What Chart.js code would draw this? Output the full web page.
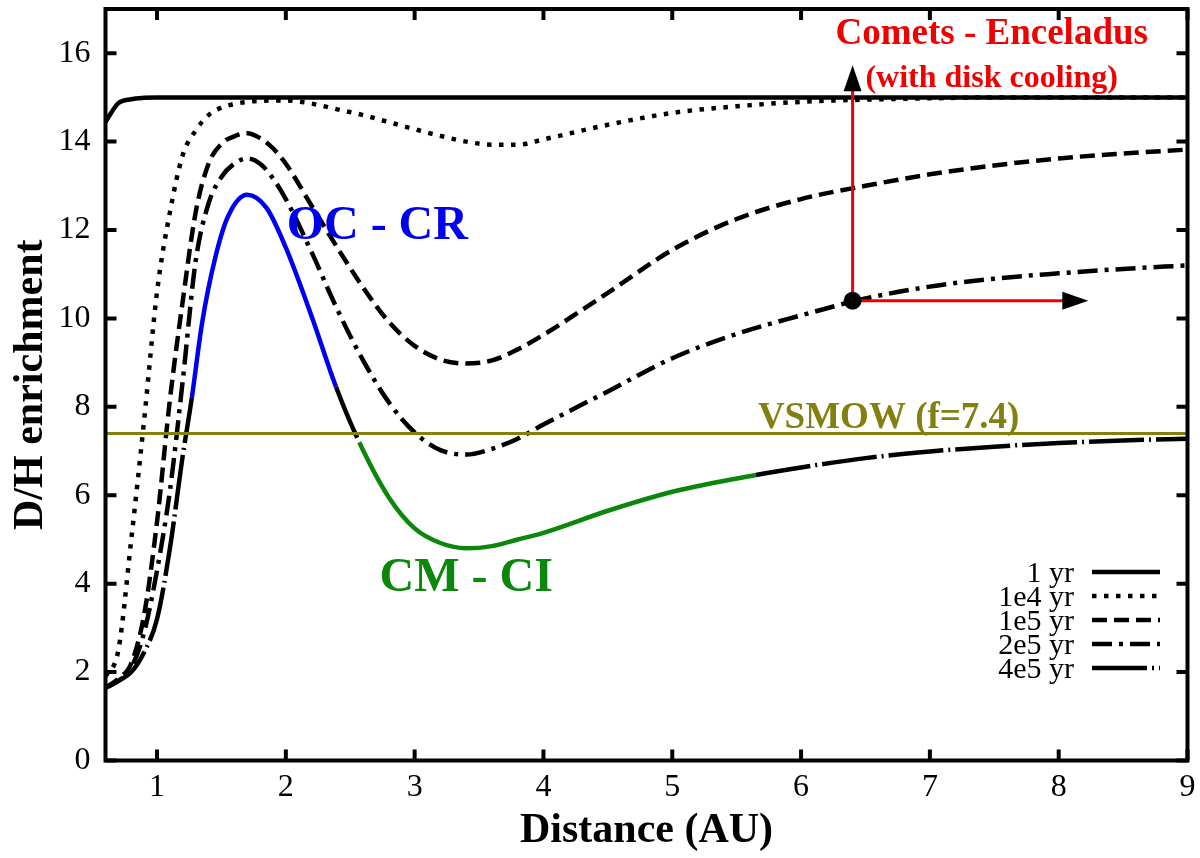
<!DOCTYPE html>
<html>
<head>
<meta charset="utf-8">
<script src="https://cdn.jsdelivr.net/npm/chart.js@4.4.1/dist/chart.umd.min.js"></script>
<style>
  html, body { margin: 0; padding: 0; background: #fff; }
  canvas { display: block; }
</style>
</head>
<body>
<canvas id="dh" width="1200" height="858"></canvas>
<script>
// D/H enrichment vs heliocentric distance
const distance = [0.6, 0.7, 0.8, 0.9, 1.0, 1.1, 1.2, 1.3, 1.4, 1.5, 1.6, 1.7, 1.8, 1.9, 2.0,
  2.2, 2.4, 2.6, 2.8, 3.0, 3.2, 3.4, 3.6, 3.8, 4.0, 4.5, 5.0, 5.5, 6.0, 6.5, 7.0, 7.5, 8.0, 8.5, 9.0];

const enrich1yr = [14.45, 14.87, 14.96, 14.99, 15, 15, 15, 15, 15, 15, 15, 15, 15, 15, 15,
  15, 15, 15, 15, 15, 15, 15, 15, 15, 15, 15, 15, 15, 15, 15, 15, 15, 15, 15, 15];
const enrich1e4 = [1.9, 2.5, 5.0, 7.7, 10.6, 12.4, 13.7, 14.25, 14.6, 14.77, 14.85, 14.9, 14.92, 14.93, 14.93,
  14.86, 14.73, 14.6, 14.44, 14.28, 14.13, 14.0, 13.93, 13.93, 14.05, 14.38, 14.65, 14.8, 14.9, 14.95, 14.98, 15, 15, 15, 15];
const enrich1e5 = [1.65, 1.85, 2.2, 3.3, 5.4, 8.16, 10.4, 12.4, 13.5, 13.95, 14.12, 14.19, 14.08, 13.85, 13.5,
  12.55, 11.6, 10.7, 9.92, 9.38, 9.07, 8.98, 9.05, 9.3, 9.63, 10.58, 11.55, 12.25, 12.7, 13.0, 13.26, 13.46, 13.62, 13.73, 13.82];
const enrich2e5 = [1.65, 1.8, 2.1, 2.9, 4.3, 6.1, 8.6, 11.3, 12.6, 13.2, 13.5, 13.62, 13.5, 13.17, 12.7,
  11.5, 10.2, 9.05, 8.1, 7.42, 7.02, 6.92, 7.05, 7.28, 7.6, 8.35, 9.1, 9.65, 10.07, 10.45, 10.72, 10.9, 11.02, 11.12, 11.2];

const distance4e5 = [0.6, 0.7, 0.8, 0.9, 1.0, 1.1, 1.2, 1.27, 1.35, 1.45, 1.55, 1.7, 1.85, 2.0, 2.2, 2.39,
  2.57, 2.8, 3.0, 3.2, 3.4, 3.6, 3.8, 4.0, 4.5, 5.0, 5.65, 6.0, 6.5, 7.0, 7.5, 8.0, 8.5, 9.0];
const enrich4e5 = [1.64, 1.8, 2.0, 2.45, 3.2, 4.8, 6.9, 8.2, 9.9, 11.35, 12.3, 12.8, 12.5, 11.6, 10.05, 8.45,
  7.2, 5.95, 5.25, 4.92, 4.8, 4.85, 5.0, 5.15, 5.65, 6.08, 6.46, 6.63, 6.84, 6.99, 7.1, 7.18, 7.24, 7.28];

const ocCrRange = [1.27, 2.39];   // blue part of the 4e5 yr curve
const cmCiRange = [2.57, 5.65];   // green part of the 4e5 yr curve

const vsmowDistance = [0.6, 9];
const vsmowValue = [7.4, 7.4];

const cometPoint = [6.4, 10.4];
const cometUpLine = [10.4, 15.3];
const cometUpTip = 15.73;
const cometRightLine = [6.4, 8.05];
const cometRightTip = 8.23;

const xTicks = [1, 2, 3, 4, 5, 6, 7, 8, 9];
const yTicks = [0, 2, 4, 6, 8, 10, 12, 14, 16];

const SERIF = "'Liberation Serif', 'DejaVu Serif', serif";
const BLUE = "#0000f0";
const GREEN = "#0b870b";
const OLIVE = "#848010";
const RED = "#f00000";

function pts(xs, ys) {
  return xs.map((x, i) => ({ x, y: ys[i] }));
}

function inRange(ctx, r) {
  return ctx.p0.parsed.x >= r[0] - 1e-9 && ctx.p1.parsed.x <= r[1] + 1e-9;
}

function curve(label, xs, ys, dash, extra) {
  return Object.assign({
    type: "line",
    label,
    inLegend: true,
    data: pts(xs, ys),
    borderColor: "#000",
    borderWidth: 4.5,
    borderDash: dash,
    pointRadius: 0,
    cubicInterpolationMode: "monotone",
    fill: false,
    order: 5,
  }, extra || {});
}

const annotations = [
  { text: "OC - CR", x: 2.71, y: 11.8, color: BLUE, font: "bold 48px " + SERIF },
  { text: "CM - CI", x: 3.40, y: 3.84, color: GREEN, font: "bold 48px " + SERIF },
  { text: "VSMOW (f=7.4)", x: 6.68, y: 7.53, color: OLIVE, font: "bold 37px " + SERIF },
  { text: "Comets - Enceladus", x: 7.48, y: 16.2, color: RED, font: "bold 37px " + SERIF },
  { text: "(with disk cooling)", x: 7.48, y: 15.24, color: RED, font: "bold 32px " + SERIF },
];

const framePlugin = {
  id: "frame",
  afterDatasetsDraw(chart) {
    const { ctx, scales: { x, y } } = chart;
    ctx.save();
    ctx.fillStyle = "#000";
    // arrow heads
    const ax = x.getPixelForValue(cometPoint[0]);
    const tipY = y.getPixelForValue(cometUpTip);
    ctx.beginPath();
    ctx.moveTo(ax, tipY);
    ctx.lineTo(ax - 9, tipY + 26);
    ctx.lineTo(ax + 9, tipY + 26);
    ctx.closePath();
    ctx.fill();
    const ay = y.getPixelForValue(cometPoint[1]);
    const tipX = x.getPixelForValue(cometRightTip);
    ctx.beginPath();
    ctx.moveTo(tipX, ay);
    ctx.lineTo(tipX - 26, ay - 9);
    ctx.lineTo(tipX - 26, ay + 9);
    ctx.closePath();
    ctx.fill();
    // text labels
    annotations.forEach((t) => {
      ctx.font = t.font;
      ctx.fillStyle = t.color;
      ctx.textAlign = "center";
      ctx.textBaseline = "alphabetic";
      ctx.fillText(t.text, x.getPixelForValue(t.x), y.getPixelForValue(t.y));
    });
    ctx.restore();
  },
  afterDraw(chart) {
    const { ctx, chartArea: a, scales: { x, y } } = chart;
    ctx.save();
    ctx.strokeStyle = "#000";
    ctx.lineWidth = 4;
    ctx.setLineDash([]);
    ctx.beginPath();
    xTicks.forEach((v) => {
      const px = x.getPixelForValue(v);
      ctx.moveTo(px, a.bottom); ctx.lineTo(px, a.bottom - 11);
      ctx.moveTo(px, a.top); ctx.lineTo(px, a.top + 11);
    });
    yTicks.forEach((v) => {
      const py = y.getPixelForValue(v);
      ctx.moveTo(a.left, py); ctx.lineTo(a.left + 11, py);
      ctx.moveTo(a.right, py); ctx.lineTo(a.right - 11, py);
    });
    ctx.stroke();
    ctx.strokeRect(a.left, a.top, a.right - a.left, a.bottom - a.top);

    // legend: label right-aligned, line sample on its right
    const items = chart.data.datasets.filter((d) => d.inLegend);
    ctx.font = "30px " + SERIF;
    ctx.fillStyle = "#000";
    ctx.textAlign = "right";
    ctx.textBaseline = "middle";
    items.forEach((d, i) => {
      const ly = 572 + i * 24;
      ctx.fillText(d.label, 1074, ly + 2);
      ctx.setLineDash(d.borderDash || []);
      ctx.lineWidth = 4.5;
      ctx.beginPath();
      ctx.moveTo(1092, ly);
      ctx.lineTo(1160, ly);
      ctx.stroke();
    });
    ctx.restore();
  },
};

new Chart(document.getElementById("dh"), {
  data: {
    datasets: [
      {
        type: "scatter",
        label: "comet point",
        data: [{ x: cometPoint[0], y: cometPoint[1] }],
        pointRadius: 9,
        pointBackgroundColor: "#000",
        pointBorderWidth: 0,
        order: 0,
      },
      {
        type: "line",
        label: "arrow up",
        data: [{ x: cometPoint[0], y: cometUpLine[0] }, { x: cometPoint[0], y: cometUpLine[1] }],
        borderColor: RED, borderWidth: 3, pointRadius: 0, order: 1,
      },
      {
        type: "line",
        label: "arrow right",
        data: [{ x: cometRightLine[0], y: cometPoint[1] }, { x: cometRightLine[1], y: cometPoint[1] }],
        borderColor: RED, borderWidth: 3, pointRadius: 0, order: 1,
      },
      {
        type: "line",
        label: "VSMOW",
        data: pts(vsmowDistance, vsmowValue),
        borderColor: OLIVE, borderWidth: 3, pointRadius: 0, order: 2,
      },
      curve("1 yr", distance, enrich1yr, []),
      curve("1e4 yr", distance, enrich1e4, [4.5, 7.5]),
      curve("1e5 yr", distance, enrich1e5, [15, 7]),
      curve("2e5 yr", distance, enrich2e5, [20, 7, 4, 7]),
      curve("4e5 yr", distance4e5, enrich4e5, [55, 5, 2, 5], {
        order: 4,
        segment: {
          borderColor: (ctx) => inRange(ctx, ocCrRange) ? BLUE : inRange(ctx, cmCiRange) ? GREEN : undefined,
          borderDash: (ctx) => (inRange(ctx, ocCrRange) || inRange(ctx, cmCiRange)) ? [] : undefined,
        },
      }),
    ],
  },
  options: {
    responsive: false,
    animation: false,
    layout: { padding: { top: 7, right: 12.5, left: 0, bottom: 0 } },
    plugins: { legend: { display: false }, tooltip: { enabled: false } },
    scales: {
      x: {
        type: "linear",
        min: 0.6,
        max: 9,
        afterBuildTicks: (s) => { s.ticks = xTicks.map((v) => ({ value: v })); },
        afterFit: (s) => { s.height = 97.5; s.paddingLeft = 0; s.paddingRight = 0; },
        grid: { display: false, drawTicks: false },
        border: { display: false },
        ticks: { color: "#000", padding: 8, font: { family: SERIF, size: 32 } },
        title: {
          display: true,
          text: "Distance (AU)",
          color: "#000",
          font: { family: SERIF, size: 42, weight: "bold" },
          padding: { top: 0, bottom: 2 },
        },
      },
      y: {
        type: "linear",
        min: 0,
        max: 17,
        afterBuildTicks: (s) => { s.ticks = yTicks.map((v) => ({ value: v })); },
        afterFit: (s) => { s.width = 105.5; s.paddingTop = 0; s.paddingBottom = 0; },
        grid: { display: false, drawTicks: false },
        border: { display: false },
        ticks: { color: "#000", padding: 15, font: { family: SERIF, size: 32 } },
        title: {
          display: true,
          text: "D/H enrichment",
          color: "#000",
          font: { family: SERIF, size: 42, weight: "bold" },
          padding: { top: 6, bottom: 0 },
        },
      },
    },
  },
  plugins: [framePlugin],
});
</script>
</body>
</html>
